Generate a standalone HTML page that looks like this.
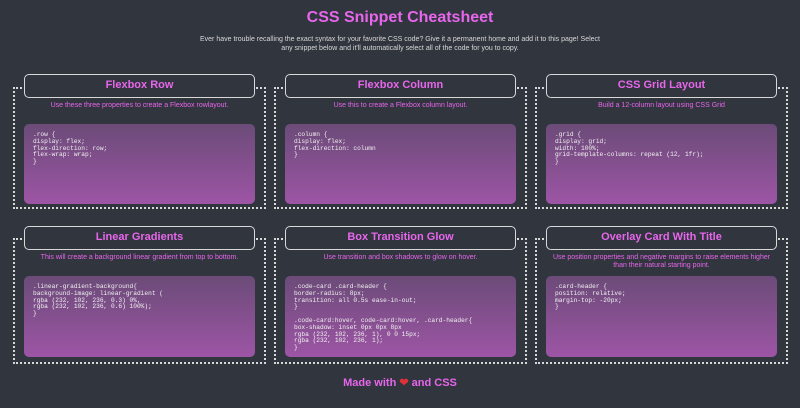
<!DOCTYPE html>
<html><head><meta charset="utf-8"><style>
*{margin:0;padding:0;box-sizing:border-box}
body{width:800px;height:408px;background:#30353e;font-family:"Liberation Sans",sans-serif;position:relative;overflow:hidden}
.t{position:absolute;left:0;width:800px;text-align:center}
.dash{position:absolute;border:2px dotted #d8d8d8;width:253px}
.hd{position:absolute;width:231px;height:24px;border:1.5px solid #d8d8d8;border-radius:5px;background:#30353e;color:#e866ec;font-weight:bold;font-size:11px;text-align:center;line-height:21px}
.ds{position:absolute;width:253px;text-align:center;color:#e866ec;font-size:7px;line-height:8px}
.cd{position:absolute;width:231px;border-radius:5px;background:linear-gradient(#6b4b78,#9d55a5);color:#f2f2f2;font-family:"Liberation Mono",monospace;font-size:6.2px;line-height:6.8px;padding:8px 9px;white-space:pre}
</style></head><body>
<div class="t" style="top:9px;color:#e866ec;font-weight:bold;font-size:16px">CSS Snippet Cheatsheet</div>
<div class="t" style="top:35px;color:#d8d8d8;font-size:7px;line-height:9px">Ever have trouble recalling the exact syntax for your favorite CSS code? Give it a permanent home and add it to this page! Select<br>any snippet below and it'll automatically select all of the code for you to copy.</div>

<div class="dash" style="left:13px;top:87px;height:122px"></div>
<div class="dash" style="left:274px;top:87px;height:122px"></div>
<div class="dash" style="left:535px;top:87px;height:122px"></div>
<div class="dash" style="left:13px;top:238px;height:126px"></div>
<div class="dash" style="left:274px;top:238px;height:126px"></div>
<div class="dash" style="left:535px;top:238px;height:126px"></div>

<div class="hd" style="left:24px;top:74px">Flexbox Row</div>
<div class="hd" style="left:285px;top:74px">Flexbox Column</div>
<div class="hd" style="left:546px;top:74px">CSS Grid Layout</div>
<div class="hd" style="left:24px;top:226px">Linear Gradients</div>
<div class="hd" style="left:285px;top:226px">Box Transition Glow</div>
<div class="hd" style="left:546px;top:226px">Overlay Card With Title</div>

<div class="ds" style="left:13px;top:102px">Use these three properties to create a Flexbox rowlayout.</div>
<div class="ds" style="left:274px;top:102px">Use this to create a Flexbox column layout.</div>
<div class="ds" style="left:535px;top:102px">Build a 12-column layout using CSS Grid</div>
<div class="ds" style="left:13px;top:254px">This will create a background linear gradient from top to bottom.</div>
<div class="ds" style="left:274px;top:254px">Use transition and box shadows to glow on hover.</div>
<div class="ds" style="left:535px;top:254px">Use position properties and negative margins to raise elements higher<br>than their natural starting point.</div>

<div class="cd" style="left:24px;top:124px;height:80px">.row {
display: flex;
flex-direction: row;
flex-wrap: wrap;
}</div>
<div class="cd" style="left:285px;top:124px;height:80px">.column {
display: flex;
flex-direction: column
}</div>
<div class="cd" style="left:546px;top:124px;height:80px">.grid {
display: grid;
width: 100%;
grid-template-columns: repeat (12, 1fr);
}</div>
<div class="cd" style="left:24px;top:276px;height:81px">.linear-gradient-background{
background-image: linear-gradient (
rgba (232, 102, 236, 0.3) 0%,
rgba (232, 102, 236, 0.6) 100%);
}</div>
<div class="cd" style="left:285px;top:276px;height:81px">.code-card .card-header {
border-radius: 8px;
transition: all 0.5s ease-in-out;
}

.code-card:hover, code-card:hover, .card-header{
box-shadow: inset 0px 0px 8px
rgba (232, 102, 236, 1), 0 0 15px;
rgba (232, 102, 236, 1);
}</div>
<div class="cd" style="left:546px;top:276px;height:81px">.card-header {
position: relative;
margin-top: -20px;
}</div>

<div class="t" style="top:376px;color:#e866ec;font-weight:bold;font-size:11px">Made with <span style="color:#e0303a">❤</span> and CSS</div>
</body></html>
